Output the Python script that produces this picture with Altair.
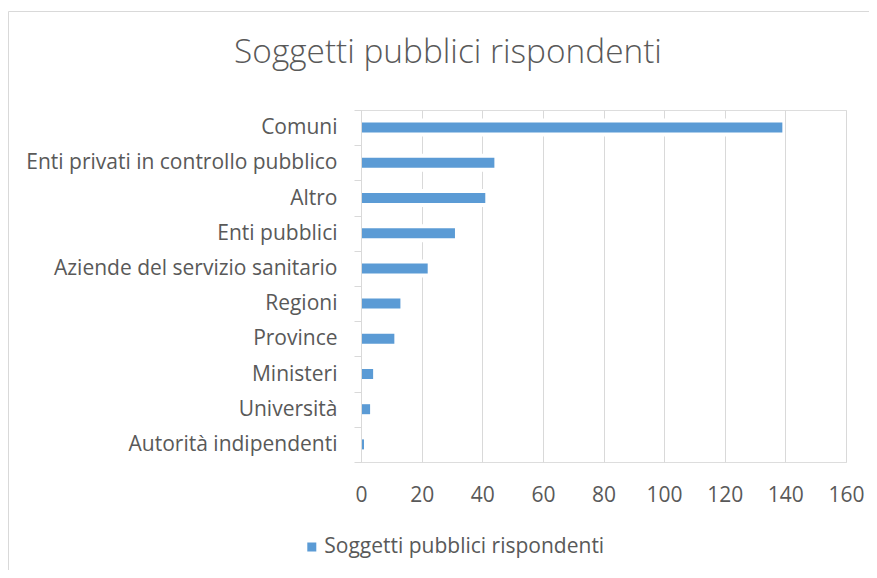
import altair as alt
import pandas as pd

# ---- data ----
categories = [
    "Comuni\u00a0",
    "Enti privati in controllo pubblico",
    "Altro",
    "Enti pubblici",
    "Aziende del servizio sanitario",
    "Regioni",
    "Province",
    "Ministeri",
    "Università",
    "Autorità indipendenti",
]
values = [139, 44, 41, 31, 22, 13, 11, 4, 3, 1]
series_name = "Soggetti pubblici rispondenti"
title_text = "Soggetti pubblici rispondenti"
x_ticks = [0, 20, 40, 60, 80, 100, 120, 140, 160]

df = pd.DataFrame({"categoria": categories, "valore": values, "serie": [series_name] * len(values)})

FONT = "Open Sans"
TXT = "#595959"
GRID = "#d9d9d9"
BLUE = "#5b9bd5"

y_enc = alt.Y(
    "categoria:N",
    sort=categories,
    scale=alt.Scale(paddingInner=0, paddingOuter=0),
    axis=alt.Axis(
        title=None,
        tickBand="extent",
        grid=False,
        domain=True,
        domainColor=GRID,
        domainWidth=1,
        ticks=True,
        tickColor=GRID,
        tickWidth=1,
        tickSize=7,
        labelFont=FONT,
        labelFontSize=21,
        labelColor=TXT,
        labelPadding=17,
        labelLimit=0,
        zindex=1,
    ),
)
x_enc = alt.X(
    "valore:Q",
    scale=alt.Scale(domain=[0, 160], nice=False),
    axis=alt.Axis(
        title=None,
        values=x_ticks,
        grid=True,
        gridColor=GRID,
        gridWidth=1,
        domain=False,
        ticks=False,
        labelFont=FONT,
        labelFontSize=21,
        labelColor=TXT,
        labelPadding=22,
        labelFlush=False,
        labelOverlap=False,
        zindex=0,
    ),
)

base = alt.Chart(df)

halo = base.mark_bar(color="white", stroke="white", strokeWidth=4, size=14).encode(x=x_enc, y=y_enc)

bars = base.mark_bar(size=10).encode(
    x=x_enc,
    y=y_enc,
    color=alt.Color(
        "serie:N",
        scale=alt.Scale(domain=[series_name], range=[BLUE]),
        legend=alt.Legend(
            title=None,
            orient="none",
            legendX=-59.7,
            legendY=426.5,
            padding=0,
            symbolType="square",
            symbolSize=81,
            symbolStrokeWidth=0,
            labelFont=FONT,
            labelFontSize=21,
            labelColor=TXT,
            labelOffset=2,
            labelLimit=0,
        ),
    ),
)

frame = alt.Chart(pd.DataFrame({"k": [0]})).mark_rect(
    fillOpacity=0, stroke=GRID, strokeWidth=1
).encode(
    x=alt.value(-352.5), x2=alt.value(700), y=alt.value(-98.5), y2=alt.value(700)
)

chart = (
    alt.layer(frame, halo, bars)
    .properties(
        width=485,
        height=352,
        autosize=alt.AutoSizeParams(type="none"),
        padding={"left": 353, "top": 102, "right": 23, "bottom": 108},
        title=alt.TitleParams(
            text=title_text,
            frame="group",
            anchor="middle",
            dx=-155.5,
            dy=85.5,
            baseline="alphabetic",
            offset=0,
            font=FONT,
            fontSize=33.4,
            fontWeight=300,
            color=TXT,
        ),
    )
    .configure_view(strokeOpacity=0)
    .configure(background="white")
)

chart.save("out.html", embed_options={"renderer": "svg", "actions": False})
